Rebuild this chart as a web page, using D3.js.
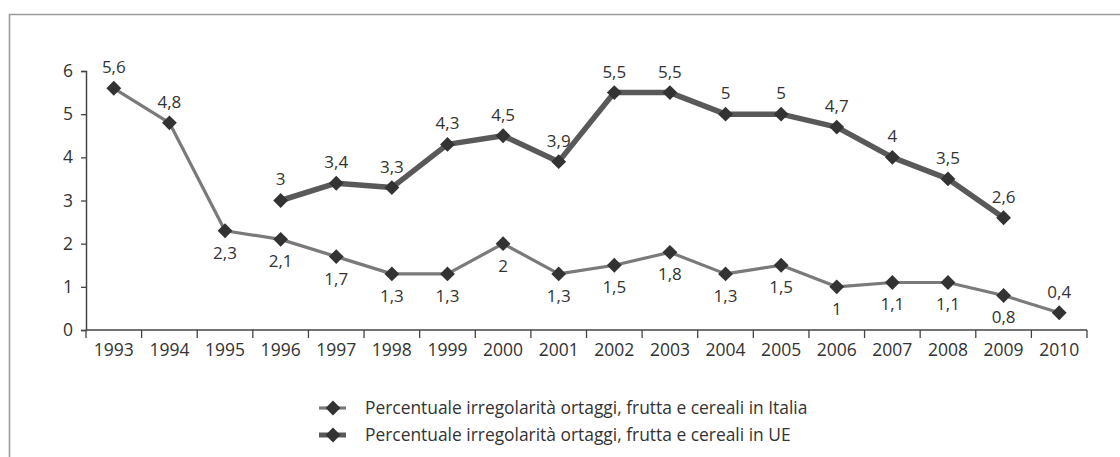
<!DOCTYPE html>
<html><head><meta charset="utf-8">
<script src="https://cdn.jsdelivr.net/npm/d3@7"></script>
<style>body{margin:0;background:#fff}svg{display:block}text{font-family:"Open Sans",sans-serif;fill:#333}</style>
</head><body>
<svg id="c" width="1120" height="457"></svg>
<script>
const years = ["1993","1994","1995","1996","1997","1998","1999","2000","2001","2002","2003","2004","2005","2006","2007","2008","2009","2010"];
const italia = [5.6,4.8,2.3,2.1,1.7,1.3,1.3,2,1.3,1.5,1.8,1.3,1.5,1,1.1,1.1,0.8,0.4];
const ue = [null,null,null,3,3.4,3.3,4.3,4.5,3.9,5.5,5.5,5,5,4.7,4,3.5,2.6,null];
const italiaLabelPos = ["a","a","b","b","b","b","b","b","b","b","b","b","b","b","b","b","b","a"];
const yTicks = [0,1,2,3,4,5,6];
const seriesNames = ["Percentuale irregolarità ortaggi, frutta e cereali in Italia","Percentuale irregolarità ortaggi, frutta e cereali in UE"];

const svg = d3.select("#c");
// frame
svg.append("path").attr("d","M9.5,457 V14.5 H1120").attr("fill","none").attr("stroke","#9a9a9a").attr("stroke-width",1.6);

const x = d3.scaleBand().domain(years).range([86,1087]);
const y = d3.scaleLinear().domain([0,6]).range([330,71]);
const fmt = v => String(v).replace(".",",");

const xAxis = svg.append("g").attr("transform","translate(0,330)")
  .call(d3.axisBottom(x).tickSize(0).tickPadding(14));
xAxis.select(".domain").remove();
xAxis.selectAll("text").attr("font-size",17.5).attr("fill","#333").attr("font-family","Open Sans");
svg.append("line").attr("x1",86).attr("x2",1087).attr("y1",330).attr("y2",330).attr("stroke","#444").attr("stroke-width",1.5);
const bounds = years.map(d=>x(d)).concat([x.range()[1]]);
svg.selectAll(".xt").data(bounds).join("line").attr("class","xt")
  .attr("x1",d=>d).attr("x2",d=>d).attr("y1",330).attr("y2",338).attr("stroke","#444").attr("stroke-width",1.3);

const yAxis = svg.append("g").attr("transform","translate(86,0)")
  .call(d3.axisLeft(y).tickValues(yTicks).tickSize(5).tickPadding(8).tickFormat(d=>d));
yAxis.select(".domain").attr("stroke","#444").attr("stroke-width",1.5);
yAxis.selectAll(".tick line").attr("stroke","#444").attr("stroke-width",1.3);
yAxis.selectAll("text").attr("font-size",17.5).attr("fill","#333").attr("font-family","Open Sans");

const cx = d => x(d)+x.bandwidth()/2;
const diamond = d3.symbol().type(d3.symbolDiamond2).size(140);

function drawSeries(vals, color, width, labelPos){
  const pts = years.map((yr,i)=>({yr, v: vals[i], pos: labelPos ? labelPos[i] : "a"})).filter(d=>d.v!==null);
  svg.append("path").datum(pts)
    .attr("d", d3.line().x(d=>cx(d.yr)).y(d=>y(d.v)))
    .attr("fill","none").attr("stroke",color).attr("stroke-width",width).attr("stroke-linejoin","round");
  svg.selectAll(null).data(pts).join("path")
    .attr("transform",d=>`translate(${cx(d.yr)},${y(d.v)})`).attr("d",diamond).attr("fill","#333");
  svg.selectAll(null).data(pts).join("text")
    .attr("x",d=>cx(d.yr)).attr("y",d=>y(d.v)+(d.pos==="a"?-21:22))
    .attr("dy","0.35em").attr("text-anchor","middle").attr("font-size",17).text(d=>fmt(d.v));
}
drawSeries(italia,"#7a7a7a",3.2,italiaLabelPos);
drawSeries(ue,"#595959",5.5,null);

// legend
const legend = [{name:seriesNames[0],color:"#7a7a7a",w:3.2,y:408},{name:seriesNames[1],color:"#595959",w:5,y:435}];
legend.forEach(l=>{
  svg.append("line").attr("x1",319).attr("x2",346).attr("y1",l.y).attr("y2",l.y).attr("stroke",l.color).attr("stroke-width",l.w);
  svg.append("path").attr("transform",`translate(333,${l.y})`).attr("d",diamond).attr("fill","#333");
  svg.append("text").attr("x",365).attr("y",l.y).attr("dy","0.35em").attr("font-size",17.4).text(l.name);
});
</script>
</body></html>
